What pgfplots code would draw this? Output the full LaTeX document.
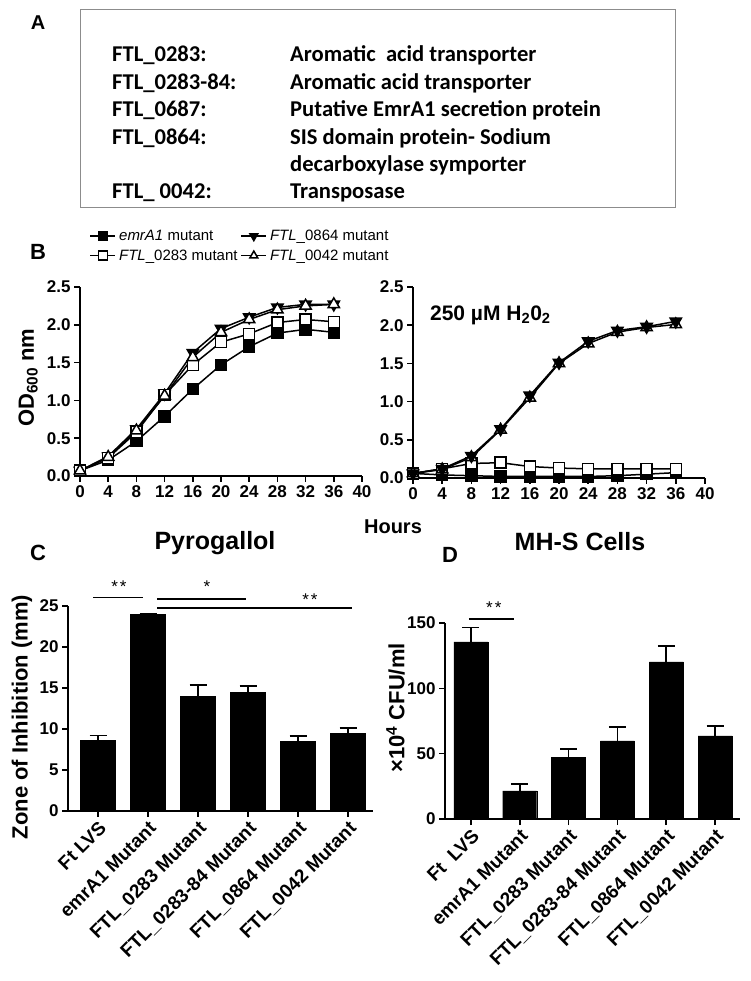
\documentclass[border=0pt]{standalone}
\usepackage{pgfplots}
\pgfplotsset{compat=1.18}
\usepackage{fontspec}
\setmainfont{Liberation Sans}
\newfontfamily\calibri{Carlito}
\newcommand{\fs}[1]{\fontsize{#1}{#1}\selectfont}
\pgfplotsset{
  gp/.style={
    scale only axis, clip=false,
    axis lines=left,
    axis line style={-, line width=1.6pt, black},
    tick align=outside,
    major tick length=6pt,
    tick style={line width=1.6pt, black},
    minor tick num=0,
    /pgf/number format/assume math mode=true,
  },
  gpline/.style={
    gp,
    ticklabel style={font=\fs{17}\bfseries},
    yticklabel style={/pgf/number format/.cd, fixed, fixed zerofill, precision=1},
    xmin=0, xmax=40, ymin=0, ymax=2.5,
    xtick={0,4,8,12,16,20,24,28,32,36,40},
    ytick={0,0.5,1,1.5,2,2.5},
  },
  gpbar/.style={
    gp, ybar, bar width=35pt,
    xmin=-0.6, xmax=5.5, ymin=0,
    xtick={0,1,2,3,4,5},
    yticklabel style={font=\fs{17}\bfseries},
    xticklabel style={rotate=45, anchor=north east, inner sep=2pt, font=\fs{19}\bfseries},
    ylabel style={font=\fs{22}\bfseries},
  },
  s1/.style={black, line width=1.5pt, mark=square*, mark size=5.5pt, mark options={fill=black, solid}},
  s2/.style={black, line width=1.5pt, mark=triangle*, mark size=6.5pt, mark options={fill=black, rotate=180, solid}},
  s3/.style={black, line width=1.5pt, mark=square*, mark size=5.5pt, mark options={fill=white, solid}},
  s4/.style={black, line width=1.5pt, mark=triangle*, mark size=6.5pt, mark options={fill=white, solid}},
}
\begin{document}
\begin{tikzpicture}[x=1pt,y=1pt]
\path[use as bounding box] (0,0) rectangle (751,981);
\fill[white] (0,0) rectangle (751,981);

% ---------------- Panel A ----------------
\node[font=\fs{20}\bfseries] at (38,958) {A};
\draw[black!45, line width=1pt] (80,971) rectangle (675,773);
\begin{scope}[every node/.style={anchor=base west, inner sep=0pt, font=\calibri\fs{22.6}\bfseries}]
\node at (112,919) {FTL\_0283:};     \node at (290,919) {Aromatic\ \ acid transporter};
\node at (112,891.6) {FTL\_0283-84:}; \node at (290,891.6) {Aromatic acid transporter};
\node at (112,864.2) {FTL\_0687:};   \node at (290,864.2) {Putative EmrA1 secretion protein};
\node at (112,836.8) {FTL\_0864:};   \node at (290,836.8) {SIS domain protein- Sodium};
                                      \node at (290,809.4) {decarboxylase symporter};
\node at (112,782) {FTL\_ 0042:};    \node at (290,782) {Transposase};
\end{scope}

% ---------------- Panel B ----------------
\node[font=\fs{22}\bfseries] at (38,729) {B};

\begin{axis}[gpline, at={(80pt,505pt)}, anchor=south west, width=282pt, height=189pt,
  ylabel={OD\textsubscript{600} nm},
  ylabel style={font=\fs{22}\bfseries, at={(axis description cs:-0.184,0.52)}, anchor=center},
  legend columns=2,
  legend cell align=left,
  legend style={draw=none, fill=none, at={(axis description cs:0.03,1.318)}, anchor=north west,
    font=\fs{15}, column sep=1pt, row sep=3.5pt, inner sep=1pt},
  legend image code/.code={\draw[mark repeat=2,mark phase=2,#1, mark size=4.5pt] plot coordinates {(0pt,0pt) (12.5pt,0pt) (25pt,0pt)};},
]
\addplot[s1] coordinates {(0,0.07) (4,0.21) (8,0.46) (12,0.79) (16,1.15) (20,1.47) (24,1.71) (28,1.89) (32,1.94) (36,1.90)};
\addlegendentry{\textit{emrA1} mutant}
\addplot[s2] coordinates {(0,0.07) (4,0.26) (8,0.62) (12,1.09) (16,1.63) (20,1.95) (24,2.10) (28,2.23) (32,2.27) (36,2.27)};
\addlegendentry{\textit{FTL}\_0864 mutant}
\addplot[s3] coordinates {(0,0.07) (4,0.24) (8,0.58) (12,1.07) (16,1.47) (20,1.77) (24,1.88) (28,2.03) (32,2.07) (36,2.04)};
\addlegendentry{\textit{FTL}\_0283 mutant}
\addplot[s4] coordinates {(0,0.07) (4,0.25) (8,0.60) (12,1.06) (16,1.57) (20,1.90) (24,2.07) (28,2.20) (32,2.25) (36,2.27)};
\addlegendentry{\textit{FTL}\_0042 mutant}
\end{axis}

\begin{axis}[gpline, at={(413pt,503pt)}, anchor=south west, width=292pt, height=191pt]
\addplot[s1] coordinates {(0,0.06) (4,0.04) (8,0.03) (12,0.02) (16,0.02) (20,0.02) (24,0.02) (28,0.03) (32,0.05) (36,0.07)};
\addplot[s3] coordinates {(0,0.06) (4,0.12) (8,0.19) (12,0.20) (16,0.15) (20,0.13) (24,0.12) (28,0.12) (32,0.12) (36,0.12)};
\addplot[s4] coordinates {(0,0.06) (4,0.11) (8,0.27) (12,0.63) (16,1.05) (20,1.50) (24,1.76) (28,1.91) (32,1.97) (36,2.01)};
\addplot[s2] coordinates {(0,0.06) (4,0.12) (8,0.29) (12,0.64) (16,1.08) (20,1.51) (24,1.79) (28,1.93) (32,1.98) (36,2.05)};
\node[anchor=west, font=\fs{21}\bfseries, inner sep=0pt] at (rel axis cs:0.058,0.853) {250 µM H\textsubscript{2}0\textsubscript{2}};
\end{axis}

\node[font=\fs{20}\bfseries] at (393,454) {Hours};

% ---------------- Panel C ----------------
\node[font=\fs{22}\bfseries] at (38,428) {C};
\node[font=\fs{25}\bfseries] at (215,438) {Pyrogallol};

\begin{axis}[gpbar, at={(68pt,170pt)}, anchor=south west, width=305pt, height=205pt,
  ymax=25, ytick={0,5,10,15,20,25},
  xticklabels={Ft LVS, emrA1 Mutant, FTL\_0283 Mutant, FTL\_0283-84 Mutant, FTL\_0864 Mutant, FTL\_0042 Mutant},
  ylabel={Zone of Inhibition (mm)},
  ylabel style={at={(axis description cs:-0.151,0.459)}, anchor=center},
]
\addplot[fill=black, draw=black,
  error bars/.cd, y dir=plus, y explicit,
  error bar style={line width=1.8pt, black},
  error mark options={rotate=90, line width=1.8pt, mark size=8.5pt, black}]
  table[x=x, y=y, y error=e] {
x y e
0 8.6 0.6
1 24.0 0
2 14.0 1.4
3 14.5 0.7
4 8.5 0.6
5 9.5 0.6
};
\draw[line width=1.3pt] (axis cs:-0.1,26.0) -- (axis cs:0.9,26.0);
\draw[line width=1.3pt] (axis cs:1.18,25.85) -- (axis cs:2.96,25.85);
\draw[line width=1.3pt] (axis cs:1.18,24.76) -- (axis cs:5.08,24.76);
\node[anchor=base, font=\fs{17}, inner sep=0pt] at (axis cs:0.42,26.7) {*\hspace{2pt}*};
\node[anchor=base, font=\fs{17}, inner sep=0pt] at (axis cs:2.18,26.7) {*};
\node[anchor=base, font=\fs{17}, inner sep=0pt] at (axis cs:4.24,25.1) {*\hspace{2pt}*};
\end{axis}

% ---------------- Panel D ----------------
\node[font=\fs{22}\bfseries] at (450,426) {D};
\node[font=\fs{25}\bfseries] at (580,439) {MH-S Cells};

\begin{axis}[gpbar, at={(445pt,162pt)}, anchor=south west, width=295pt, height=196pt,
  bar width=34pt, xmin=-0.53, xmax=5.51,
  ymax=150, ytick={0,50,100,150},
  xticklabels={Ft\ \ LVS, emrA1 Mutant, FTL\_0283 Mutant, FTL\_0283-84 Mutant, FTL\_0864 Mutant, FTL\_0042 Mutant},
  ylabel={×10\textsuperscript{4} CFU/ml},
  ylabel style={at={(axis description cs:-0.168,0.566)}, anchor=center},
]
\addplot[fill=black, draw=black,
  error bars/.cd, y dir=plus, y explicit,
  error bar style={line width=1.8pt, black},
  error mark options={rotate=90, line width=1.8pt, mark size=8.5pt, black}]
  table[x=x, y=y, y error=e] {
x y e
0 135.5 11.0
1 21.6 5.1
2 47.0 6.4
3 59.7 10.7
4 120.3 11.9
5 63.6 7.8
};
\draw[line width=1.3pt] (axis cs:-0.04,153) -- (axis cs:0.89,153);
\node[anchor=base, font=\fs{17}, inner sep=0pt] at (axis cs:0.47,156.9) {*\hspace{2pt}*};
\end{axis}
\end{tikzpicture}
\end{document}
